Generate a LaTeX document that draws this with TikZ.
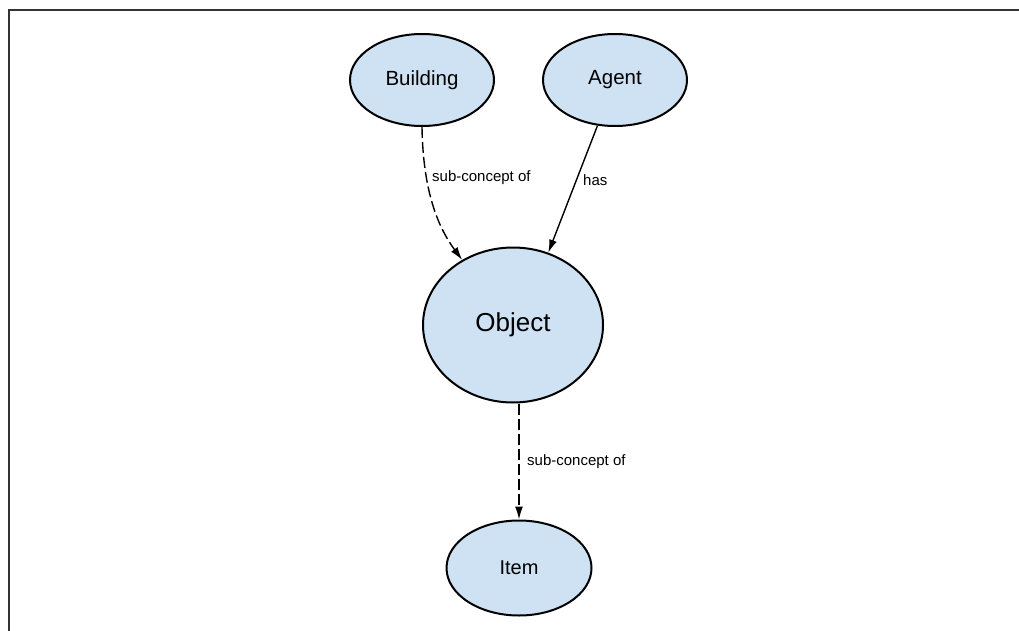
\documentclass[tikz,border=0pt]{standalone}
\usepackage{fontspec}
\setmainfont{Liberation Sans}
\usetikzlibrary{shapes.geometric,arrows.meta}
\definecolor{nodefill}{HTML}{CFE2F3}
\tikzset{
  concept/.style={ellipse, draw=black, line width=2pt, fill=nodefill, inner sep=0pt, text=black},
  lbl/.style={anchor=west, inner sep=0pt, font=\fontsize{15}{17}\selectfont},
  tip/.style={-{Latex[length=13pt,width=8pt]}, line width=1.4pt},
  dashline/.style={tip, dash pattern=on 11pt off 4pt}
}
\begin{document}
\begin{tikzpicture}[x=1pt,y=-1pt]
\useasboundingbox (0,0) rectangle (1019,631);
\fill[white] (0,0) rectangle (1019,631);
\draw[line width=1.6pt, black!80] (9,640) -- (9,10) -- (1030,10);

\node[concept, minimum width=144pt, minimum height=92pt, font=\fontsize{20.5}{24}\selectfont] (building) at (422,80) {Building};
\node[concept, minimum width=144pt, minimum height=92pt, font=\fontsize{20.5}{24}\selectfont] (agent) at (615,80) {Agent};
\node[concept, minimum width=180pt, minimum height=155pt, font=\fontsize{26}{30}\selectfont] (object) at (513,325) {Object};
\node[concept, minimum width=145pt, minimum height=95pt, font=\fontsize{20}{24}\selectfont] (item) at (519,568) {Item};

\draw[dashline] (building.south) .. controls (423,195) and (440,230) .. (object.128);
\draw[tip] (agent.249) -- (object.64);
\draw[dashline] (object.south -| item.north) -- (item.north);

\node[lbl] (l1) at (432,178) {sub-concept of};
\node[lbl] (l2) at (583,180) {has};
\node[lbl] (l3) at (527,462) {sub-concept of};
\end{tikzpicture}
\end{document}
